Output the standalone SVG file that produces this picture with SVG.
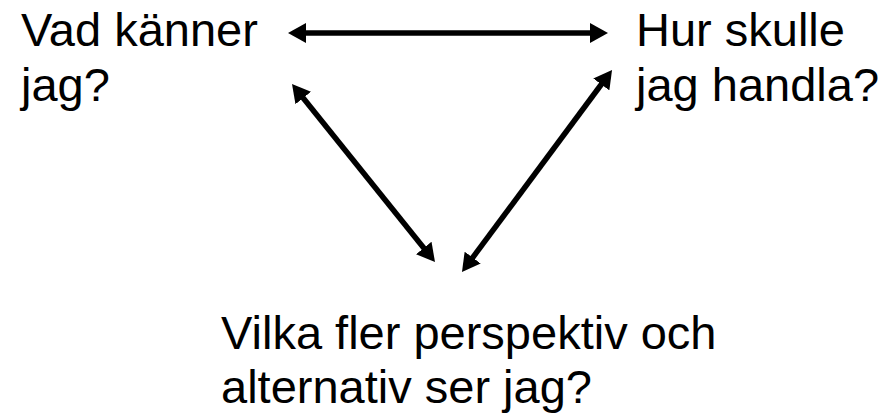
<svg xmlns="http://www.w3.org/2000/svg" width="886" height="413" viewBox="0 0 886 413">
<style>
.t{font-family:"Liberation Sans",Arial,sans-serif;font-size:47px;fill:#000}
.c{stroke:#000;stroke-width:5.5;fill:none;marker-start:url(#ah);marker-end:url(#ah)}
</style>
<defs>
<marker id="ah" markerUnits="userSpaceOnUse" viewBox="0 -11 19 22" markerWidth="19" markerHeight="22" refX="3" refY="0" orient="auto-start-reverse">
<path d="M0,-10 L18,0 L0,10 Z" fill="#000"/>
</marker>
</defs>
<rect width="886" height="413" fill="#fff"/>
<g id="connectors">
<line class="c" x1="303" y1="33" x2="593" y2="33"/>
<line class="c" x1="301.4" y1="95.7" x2="425.6" y2="250.3"/>
<line class="c" x1="603.1" y1="82" x2="470.9" y2="260"/>
</g>
<g id="node-kanner">
<text class="t" x="21" y="46">Vad känner</text>
<text class="t" x="21" y="101">jag?</text>
</g>
<g id="node-handla">
<text class="t" x="636" y="46">Hur skulle</text>
<text class="t" x="636" y="101">jag handla?</text>
</g>
<g id="node-perspektiv">
<text class="t" x="221" y="349">Vilka fler perspektiv och</text>
<text class="t" x="221" y="403">alternativ ser jag?</text>
</g>
</svg>
